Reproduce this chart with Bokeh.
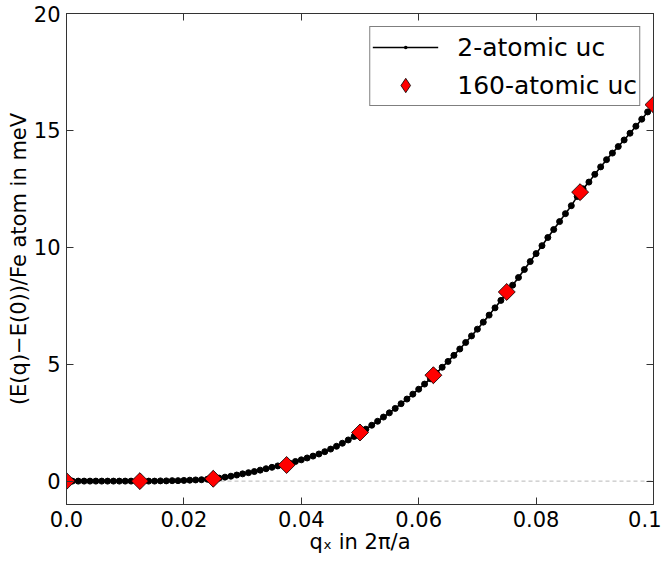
from bokeh.plotting import figure
from bokeh.models import Range1d, LinearAxis, FixedTicker, Span, Legend, LegendItem
from bokeh.embed import file_html
from bokeh.resources import INLINE
import numpy as np

# 2-atomic unit cell: q_x in 2pi/a and energy per Fe atom in meV
q_2atomic = [
    0.000, 0.001, 0.002, 0.003, 0.004, 0.005, 0.006, 0.007, 0.008, 0.009,
    0.010, 0.011, 0.012, 0.013, 0.014, 0.015, 0.016, 0.017, 0.018, 0.019,
    0.020, 0.021, 0.022, 0.023, 0.024, 0.025, 0.026, 0.027, 0.028, 0.029,
    0.030, 0.031, 0.032, 0.033, 0.034, 0.035, 0.036, 0.037, 0.038, 0.039,
    0.040, 0.041, 0.042, 0.043, 0.044, 0.045, 0.046, 0.047, 0.048, 0.049,
    0.050, 0.051, 0.052, 0.053, 0.054, 0.055, 0.056, 0.057, 0.058, 0.059,
    0.060, 0.061, 0.062, 0.063, 0.064, 0.065, 0.066, 0.067, 0.068, 0.069,
    0.070, 0.071, 0.072, 0.073, 0.074, 0.075, 0.076, 0.077, 0.078, 0.079,
    0.080, 0.081, 0.082, 0.083, 0.084, 0.085, 0.086, 0.087, 0.088, 0.089,
    0.090, 0.091, 0.092, 0.093, 0.094, 0.095, 0.096, 0.097, 0.098, 0.099,
    0.100,
]
e_2atomic = [
    0.00, 0.00, 0.00, 0.00, 0.00, 0.00, 0.00, 0.00, 0.00, 0.00,
    0.00, 0.00, 0.00, 0.00, 0.00, 0.00, 0.01, 0.01, 0.02, 0.02,
    0.03, 0.04, 0.05, 0.06, 0.08, 0.10, 0.13, 0.17, 0.21, 0.26,
    0.31, 0.36, 0.41, 0.47, 0.53, 0.59, 0.65, 0.71, 0.77, 0.84,
    0.91, 0.99, 1.07, 1.16, 1.26, 1.37, 1.49, 1.62, 1.76, 1.91,
    2.06, 2.22, 2.39, 2.56, 2.74, 2.92, 3.11, 3.31, 3.51, 3.72,
    3.93, 4.15, 4.38, 4.62, 4.87, 5.12, 5.38, 5.65, 5.93, 6.21,
    6.50, 6.80, 7.10, 7.41, 7.73, 8.05, 8.38, 8.71, 9.05, 9.39,
    9.73, 10.07, 10.42, 10.76, 11.10, 11.44, 11.78, 12.17, 12.50, 12.79,
    13.12, 13.44, 13.75, 14.03, 14.31, 14.59, 14.88, 15.18, 15.48, 15.79,
    16.10,
]

# 160-atomic unit cell
q_160atomic = [0.0, 0.0125, 0.025, 0.0375, 0.05, 0.0625, 0.075, 0.0875, 0.1]
e_160atomic = [0.00, 0.00, 0.10, 0.69, 2.08, 4.53, 8.09, 12.36, 16.10]

x_ticks = [0.0, 0.02, 0.04, 0.06, 0.08, 0.1]
x_tick_labels = ["0.0", "0.02", "0.04", "0.06", "0.08", "0.1"]
y_ticks = [0, 5, 10, 15, 20]
y_tick_labels = ["0", "5", "10", "15", "20"]

FONT = "DejaVu Sans"
SPINE = "#333333"

p = figure(width=661, height=556,
           x_range=Range1d(0, 0.1), y_range=Range1d(-1, 20),
           output_backend="svg", toolbar_location=None,
           min_border_left=66, min_border_right=8,
           min_border_top=13, min_border_bottom=52)
p.background_fill_color = "white"
p.border_fill_color = "white"
p.outline_line_color = SPINE
p.outline_line_width = 1
p.xgrid.grid_line_color = None
p.ygrid.grid_line_color = None

def style_axis(ax, ticks, labels, show_labels=True):
    ax.ticker = FixedTicker(ticks=ticks)
    if show_labels:
        ax.major_label_overrides = {t: l for t, l in zip(ticks, labels)}
        ax.major_label_text_font_size = "21px"
    else:
        ax.major_label_overrides = {t: "" for t in ticks}
        ax.major_label_standoff = 0
        ax.major_label_text_font_size = "0px"
    ax.major_tick_in = 7
    ax.major_tick_out = 0
    ax.minor_tick_line_color = None
    ax.axis_line_color = SPINE
    ax.major_tick_line_color = SPINE
    ax.major_label_text_font = FONT
    ax.major_label_text_color = "black"
    ax.axis_label_text_font = FONT
    ax.axis_label_text_font_size = "21px"
    ax.axis_label_text_font_style = "normal"
    ax.axis_label_text_color = "black"

style_axis(p.xaxis[0], x_ticks, x_tick_labels)
style_axis(p.yaxis[0], y_ticks, y_tick_labels)
p.xaxis[0].axis_label = "qₓ in 2π/a"
p.yaxis[0].axis_label = "(E(q)−E(0))/Fe atom in meV"
p.xaxis[0].major_label_standoff = 6
p.xaxis[0].axis_label_standoff = 0
p.yaxis[0].major_label_standoff = 6
p.yaxis[0].axis_label_standoff = 0

top_ax = LinearAxis()
style_axis(top_ax, x_ticks, x_tick_labels, show_labels=False)
p.add_layout(top_ax, "above")
right_ax = LinearAxis()
style_axis(right_ax, y_ticks, y_tick_labels, show_labels=False)
p.add_layout(right_ax, "right")

zero_line = Span(location=0, dimension="width", line_color="#b8b8b8",
                 line_dash="4 3", line_width=1, level="underlay")
p.add_layout(zero_line)

line_r = p.line(q_2atomic, e_2atomic, line_color="black", line_width=1.6)
# small "dot" markers (legend swatch) hidden under the circles
dots_leg = p.scatter(q_2atomic, e_2atomic, marker="dot", size=6,
                     line_color="black", fill_color="black")
dots_r = p.scatter(q_2atomic, e_2atomic, marker="circle", size=6,
                   fill_color="black", line_color="black")
# diamond marker (legend swatch) drawn underneath the rotated squares
dia_leg = p.scatter(q_160atomic, e_160atomic, marker="diamond", size=16,
                    fill_color="#ff0000", line_color="black", line_width=0.8)
dia_r = p.scatter(q_160atomic, e_160atomic, marker="square", angle=np.pi / 4,
                  size=12, fill_color="#ff0000", line_color="black",
                  line_width=0.8)

legend = Legend(items=[LegendItem(label="2-atomic uc", renderers=[line_r, dots_leg]),
                       LegendItem(label="160-atomic uc", renderers=[dia_leg])],
                location="top_right", margin=13, padding=2, spacing=2,
                glyph_width=66, glyph_height=36, label_height=29,
                label_standoff=19,
                label_text_font=FONT, label_text_font_size="25px",
                label_text_color="black",
                border_line_color="black", border_line_width=1,
                background_fill_color="white", background_fill_alpha=1)
p.add_layout(legend, "center")

open("out.html", "w").write(file_html(p, INLINE))
